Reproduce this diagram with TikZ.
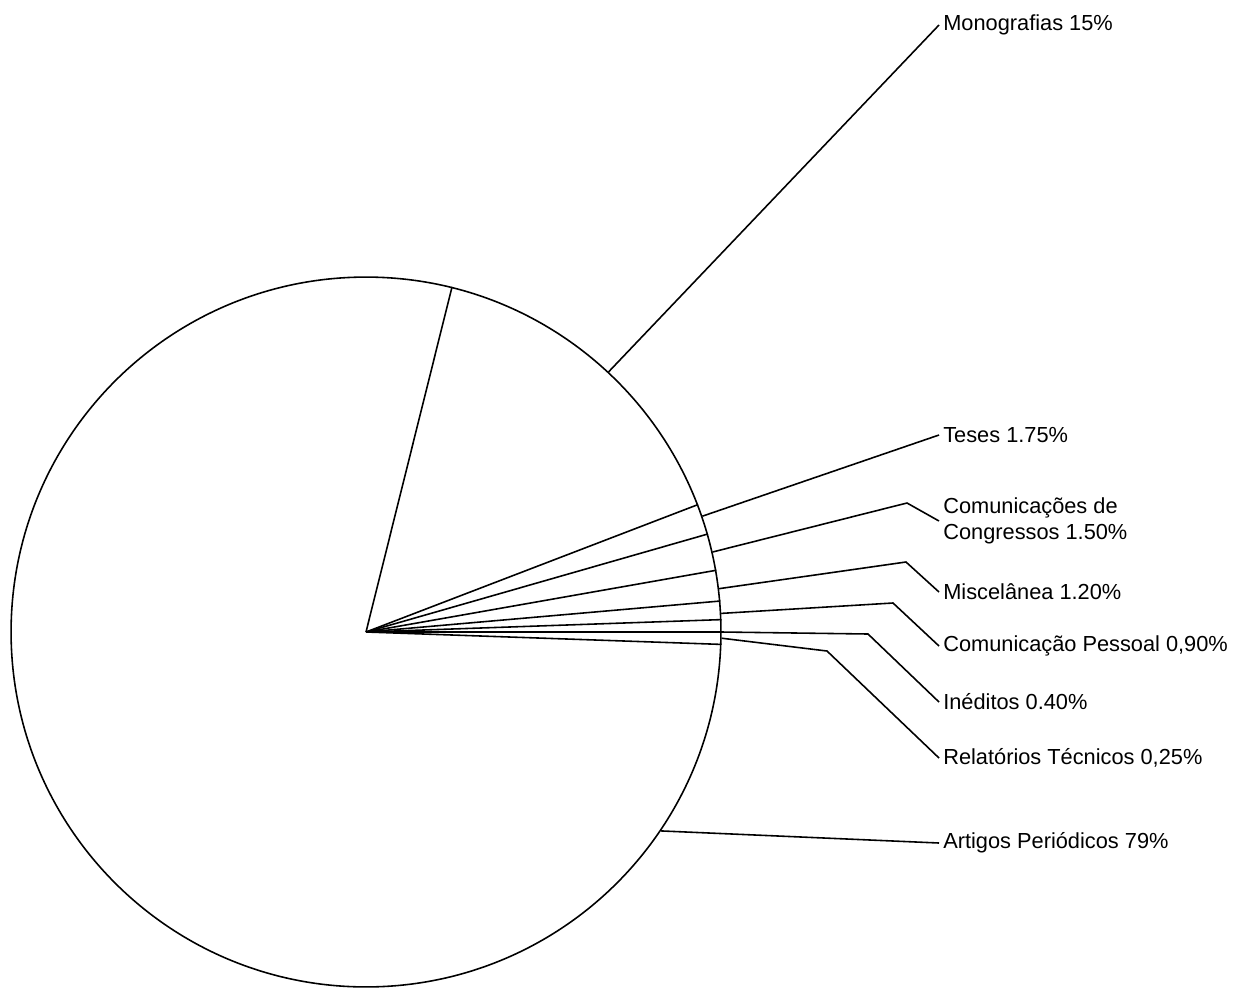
\documentclass[tikz,border=0pt]{standalone}
\usepackage{fontspec}
\setmainfont{Liberation Sans}
\usetikzlibrary{positioning}

\begin{document}
\begin{tikzpicture}[x=0.02cm, y=-0.02cm, line width=0.9pt,
    lbl/.style={anchor=west, inner sep=2pt, font=\fontsize{12.4}{15}\selectfont, align=left}]
            \useasboundingbox (0,0) rectangle (1234,991);

            % pie and slice boundaries
            \node[circle, draw, minimum size=14.2cm, inner sep=0pt] (pie) at (366,632) {};
            \foreach \a in {76, 21.6, 16.6, 10.2, 5.0, 2.0, -0.8, -2.4}
                \draw (pie.center) -- (pie.\a);

            % labels
            \node[lbl] (mono) at (939,25) {Monografias 15\%};
            \node[lbl] (teses) at (939,435) {Teses 1.75\%};
            \node[lbl] (cong) at (939,521) {Comunicações de\\Congressos 1.50\%};
            \node[lbl] (misc) at (939,592) {Miscelânea 1.20\%};
            \node[lbl] (pess) at (939,646) {Comunicação Pessoal 0,90\%};
            \node[lbl] (ined) at (939,702) {Inéditos 0.40\%};
            \node[lbl] (relat) at (939,758) {Relatórios Técnicos 0,25\%};
            \node[lbl] (artig) at (939,843) {Artigos Periódicos 79\%};

            % leader lines
            \coordinate (kcong) at (907,503);
            \coordinate (kmisc) at (906,562);
            \coordinate (kpess) at (893,603);
            \coordinate (kined) at (868,634);
            \coordinate (krelat) at (827,651);

            \draw (pie.47.7) -- (mono.west);
            \draw (pie.19.2) -- (teses.west);
            \draw (pie.13.4) -- (kcong) -- (cong.west);
            \draw (pie.7.6) -- (kmisc) -- (misc.west);
            \draw (pie.3.6) -- (kpess) -- (pess.west);
            \draw (pie.-0.2) -- (kined) -- (ined.west);
            \draw (pie.-1.9) -- (krelat) -- (relat.west);
            \draw (pie.-34.5) -- (artig.west);
        \end{tikzpicture}
\end{document}
